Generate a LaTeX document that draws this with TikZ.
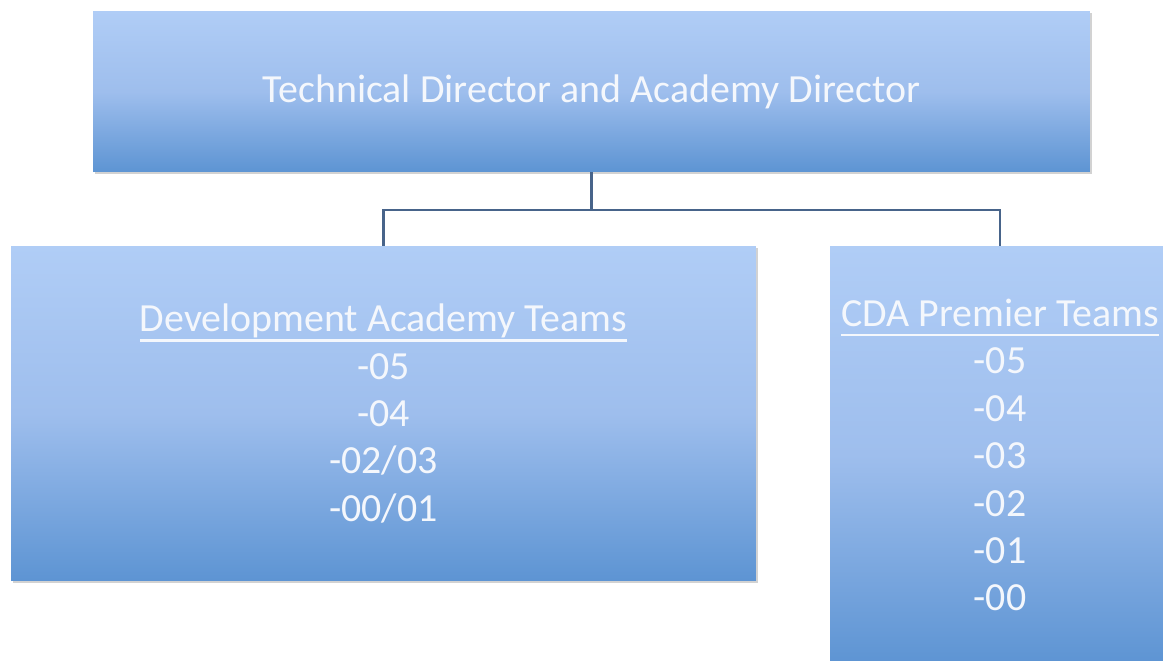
\documentclass[tikz,border=0pt]{standalone}
\usepackage{fontspec}
\setmainfont{Carlito}
\usepackage{tikz}
\usetikzlibrary{shadows,calc,positioning}
\definecolor{boxtop}{RGB}{176,205,246}
\definecolor{boxmid}{RGB}{158,190,237}
\definecolor{boxbot}{RGB}{93,148,211}
\definecolor{linkcol}{RGB}{72,100,138}
\definecolor{txtcol}{RGB}{244,247,252}
\newcommand{\hdline}[1]{\setbox0=\hbox{#1}\copy0\llap{\vrule height -4.3pt depth 5.7pt width \wd0}}

\begin{document}
\begin{tikzpicture}[x=0.02cm, y=-0.02cm,
       box/.style={rectangle, inner sep=0pt, top color=boxtop, bottom color=boxbot, middle color=boxmid,
                   drop shadow={opacity=0.35, shadow xshift=1.2pt, shadow yshift=-1.2pt},
                   text=txtcol, align=center, font=\fontsize{22.7}{27}\selectfont},
       link/.style={draw=linkcol, line width=1.3pt}]
   \useasboundingbox (0,0) rectangle (1163,661);
   \clip (0,0) rectangle (1163,661);
   \fill[white] (0,0) rectangle (1163,661);
   % directors
   \node [box, minimum width=19.94cm, minimum height=3.22cm] (dir) at (591.5,91.5) {Technical Director and Academy Director};
   % teams
   \node [box, minimum width=14.9cm, minimum height=6.7cm] (dev) at (383.5,413.5)
         {\hdline{Development Academy Teams}\\-05\\-04\\-02/03\\-00/01};
   \node [box, minimum width=6.8cm, minimum height=8.36cm] (cda) at (1000,455)
         {\hdline{CDA Premier Teams}\\-05\\-04\\-03\\-02\\-01\\-00};
   % connectors
   \coordinate (bus) at ($(dir.south)+(0,38)$);
   \draw [link] (dir.south) -- (bus);
   \draw [link] (dev.north) |- (bus) -| (cda.north);
\end{tikzpicture}
\end{document}
